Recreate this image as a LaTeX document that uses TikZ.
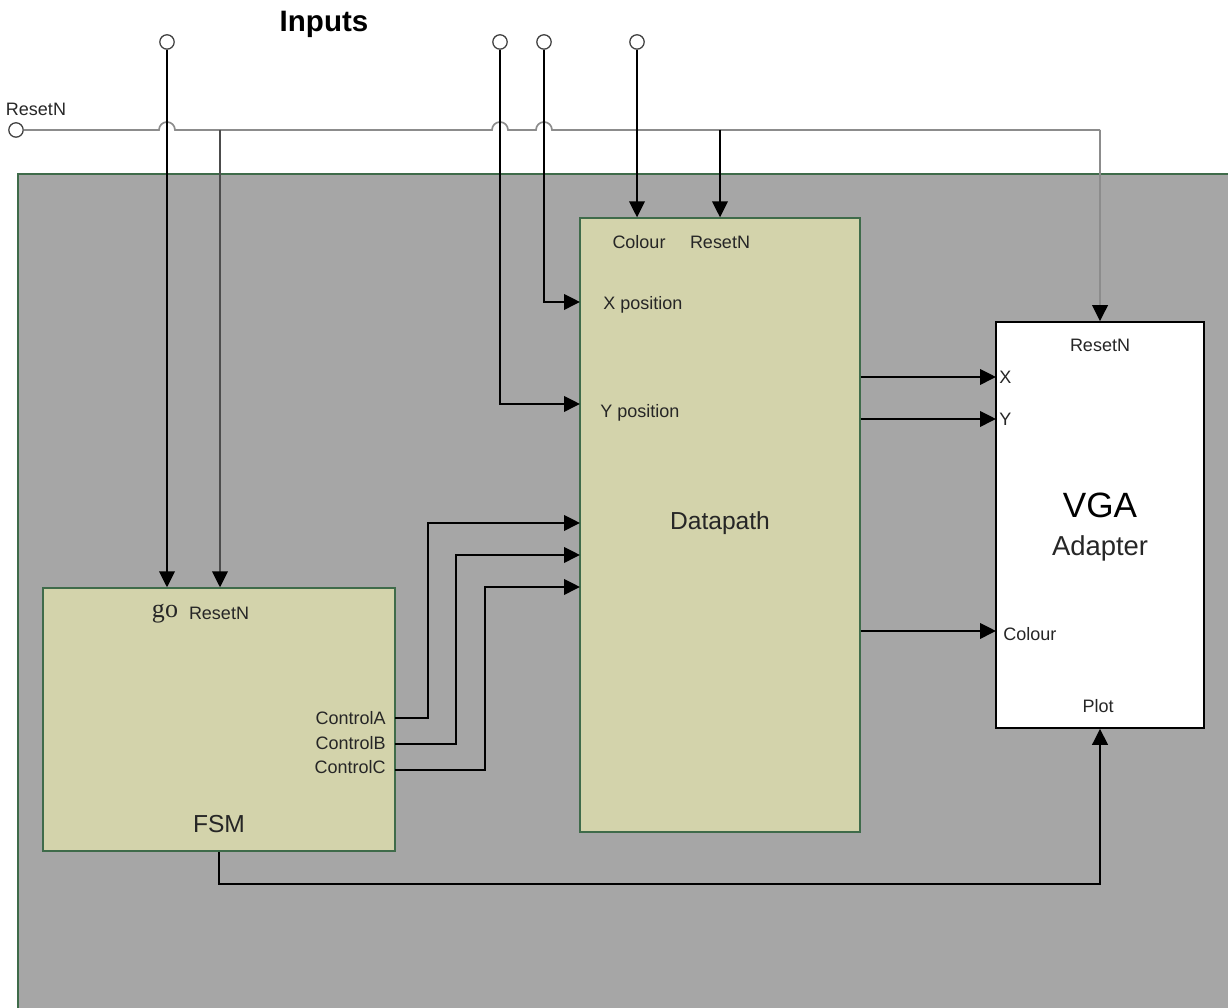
\documentclass[tikz,border=0pt]{standalone}
\usepackage{fontspec}
\setmainfont{Liberation Sans}
\newfontfamily\gofont{Liberation Serif}
\usetikzlibrary{arrows.meta,calc}
\definecolor{panelgray}{HTML}{A6A6A6}
\definecolor{panelgreen}{HTML}{3F6B4A}
\definecolor{blockfill}{HTML}{D3D3AB}
\definecolor{resetgray}{HTML}{8C8C8C}

\begin{document}
\begin{tikzpicture}[
    block/.style={rectangle, draw=panelgreen, fill=blockfill, line width=1pt, inner sep=0pt},
    vgabox/.style={rectangle, draw=black, fill=white, line width=1.1pt, inner sep=0pt},
    pin/.style={circle, draw=black!75, fill=white, line width=0.9pt, inner sep=0pt, minimum size=0.36cm},
    lbl/.style={inner sep=0pt, font=\fontsize{12.8}{15}\selectfont, text=black!85},
    wire/.style={line width=1.2pt, draw=black},
    arrow/.style={wire, -{Triangle[length=4mm, width=3.9mm, color=black]}},
    rwire/.style={line width=1.2pt, draw=resetgray}
  ]
    \useasboundingbox (0,0) rectangle (30.7,25.2);
    \filldraw[fill=panelgray, draw=panelgreen, line width=1pt] (0.45,20.85) rectangle (31.5,-1);

    % blocks
    \node[block, minimum width=8.8cm, minimum height=6.575cm] (fsm) at (5.475,7.2125) {};
    \node[block, minimum width=7cm, minimum height=15.35cm] (dp) at (18,12.075) {};
    \node[vgabox, minimum width=5.2cm, minimum height=10.15cm] (vga) at (27.5,12.075) {};

    % inputs
    \node[font=\fontsize{21}{24}\selectfont\bfseries] (title) at (8.1,24.6) {Inputs};
    \node[pin] (in1) at (4.175,24.15) {};
    \node[pin] (in2) at (12.5,24.15) {};
    \node[pin] (in3) at (13.6,24.15) {};
    \node[pin] (in4) at (15.925,24.15) {};
    \node[pin] (rst) at (0.4,21.95) {};
    \node[lbl] (rstlbl) at (0.9,22.475) {ResetN};

    % labels inside the blocks
    \node[lbl] (fgo) at (4.125,9.85) {\gofont\fontsize{18.5}{20}\selectfont go};
    \node[lbl] (frst) at (5.475,9.875) {ResetN};
    \node[lbl, anchor=east] (fca) at (9.65,7.25) {ControlA};
    \node[lbl, anchor=east] (fcb) at (9.65,6.625) {ControlB};
    \node[lbl, anchor=east] (fcc) at (9.65,6.025) {ControlC};
    \node[font=\fontsize{17.5}{20}\selectfont, text=black!85] (fname) at (5.475,4.6) {FSM};

    \node[lbl] (dcol) at (15.975,19.15) {Colour};
    \node[lbl] (drst) at (18,19.15) {ResetN};
    \node[lbl] (dxp) at (16.075,17.575) {X position};
    \node[lbl] (dyp) at (16,14.875) {Y position};
    \node[font=\fontsize{17.5}{20}\selectfont, text=black!85] (dname) at (18,12.125) {Datapath};

    \node[lbl] (vrst) at (27.5,16.575) {ResetN};
    \node[lbl, anchor=west] (vx) at (24.975,15.775) {X};
    \node[lbl, anchor=west] (vy) at (24.975,14.725) {Y};
    \node[font=\fontsize{25}{28}\selectfont] (vname) at (27.5,12.575) {VGA};
    \node[font=\fontsize{19.5}{22}\selectfont, text=black!85] (vsub) at (27.5,11.5) {Adapter};
    \node[lbl, anchor=west] (vcol) at (25.075,9.35) {Colour};
    \node[lbl] (vplot) at (27.45,7.55) {Plot};

    % ports
    \coordinate (xin) at (14.5,17.65);
    \coordinate (yin) at (14.5,15.1);
    \coordinate (ca) at (9.875,7.25);
    \coordinate (cb) at (9.875,6.6);
    \coordinate (cc) at (9.875,5.95);
    \coordinate (da) at (14.5,12.125);
    \coordinate (db) at (14.5,11.325);
    \coordinate (dc) at (14.5,10.525);
    \coordinate (vxin) at (24.9,15.775);
    \coordinate (vyin) at (24.9,14.725);
    \coordinate (vcin) at (24.9,9.425);
    \coordinate (ftap) at (5.5,21.95);
    \coordinate (dtap) at (18,21.95);

    % reset line with hops
    \draw[rwire] (rst.east) -- ($(in1|-rst)+(-0.2,0)$) arc[start angle=180, end angle=0, radius=0.2]
      -- ($(in2|-rst)+(-0.2,0)$) arc[start angle=180, end angle=0, radius=0.2]
      -- ($(in3|-rst)+(-0.2,0)$) arc[start angle=180, end angle=0, radius=0.2]
      -- (vga.north|-rst);
    \draw[arrow, draw=resetgray] (vga.north|-rst) -- (vga.north);
    \draw[arrow, draw=black!70] (ftap) -- (ftap|-fsm.north);
    \draw[arrow] (dtap) -- (dtap|-dp.north);

    \draw[arrow] (in1) -- (in1|-fsm.north);
    \draw[arrow] (in2) |- (yin);
    \draw[arrow] (in3) |- (xin);
    \draw[arrow] (in4) -- (in4|-dp.north);

    % control signals
    \draw[arrow] (ca) -- ++(0.825,0) |- (da);
    \draw[arrow] (cb) -- ++(1.525,0) |- (db);
    \draw[arrow] (cc) -- ++(2.25,0) |- (dc);

    % datapath to VGA
    \draw[arrow] (dp.east|-vxin) -- (vxin);
    \draw[arrow] (dp.east|-vyin) -- (vyin);
    \draw[arrow] (dp.east|-vcin) -- (vcin);
    \draw[arrow] (fsm.south) -- ++(0,-0.8) -| (vga.south);
  \end{tikzpicture}
\end{document}
